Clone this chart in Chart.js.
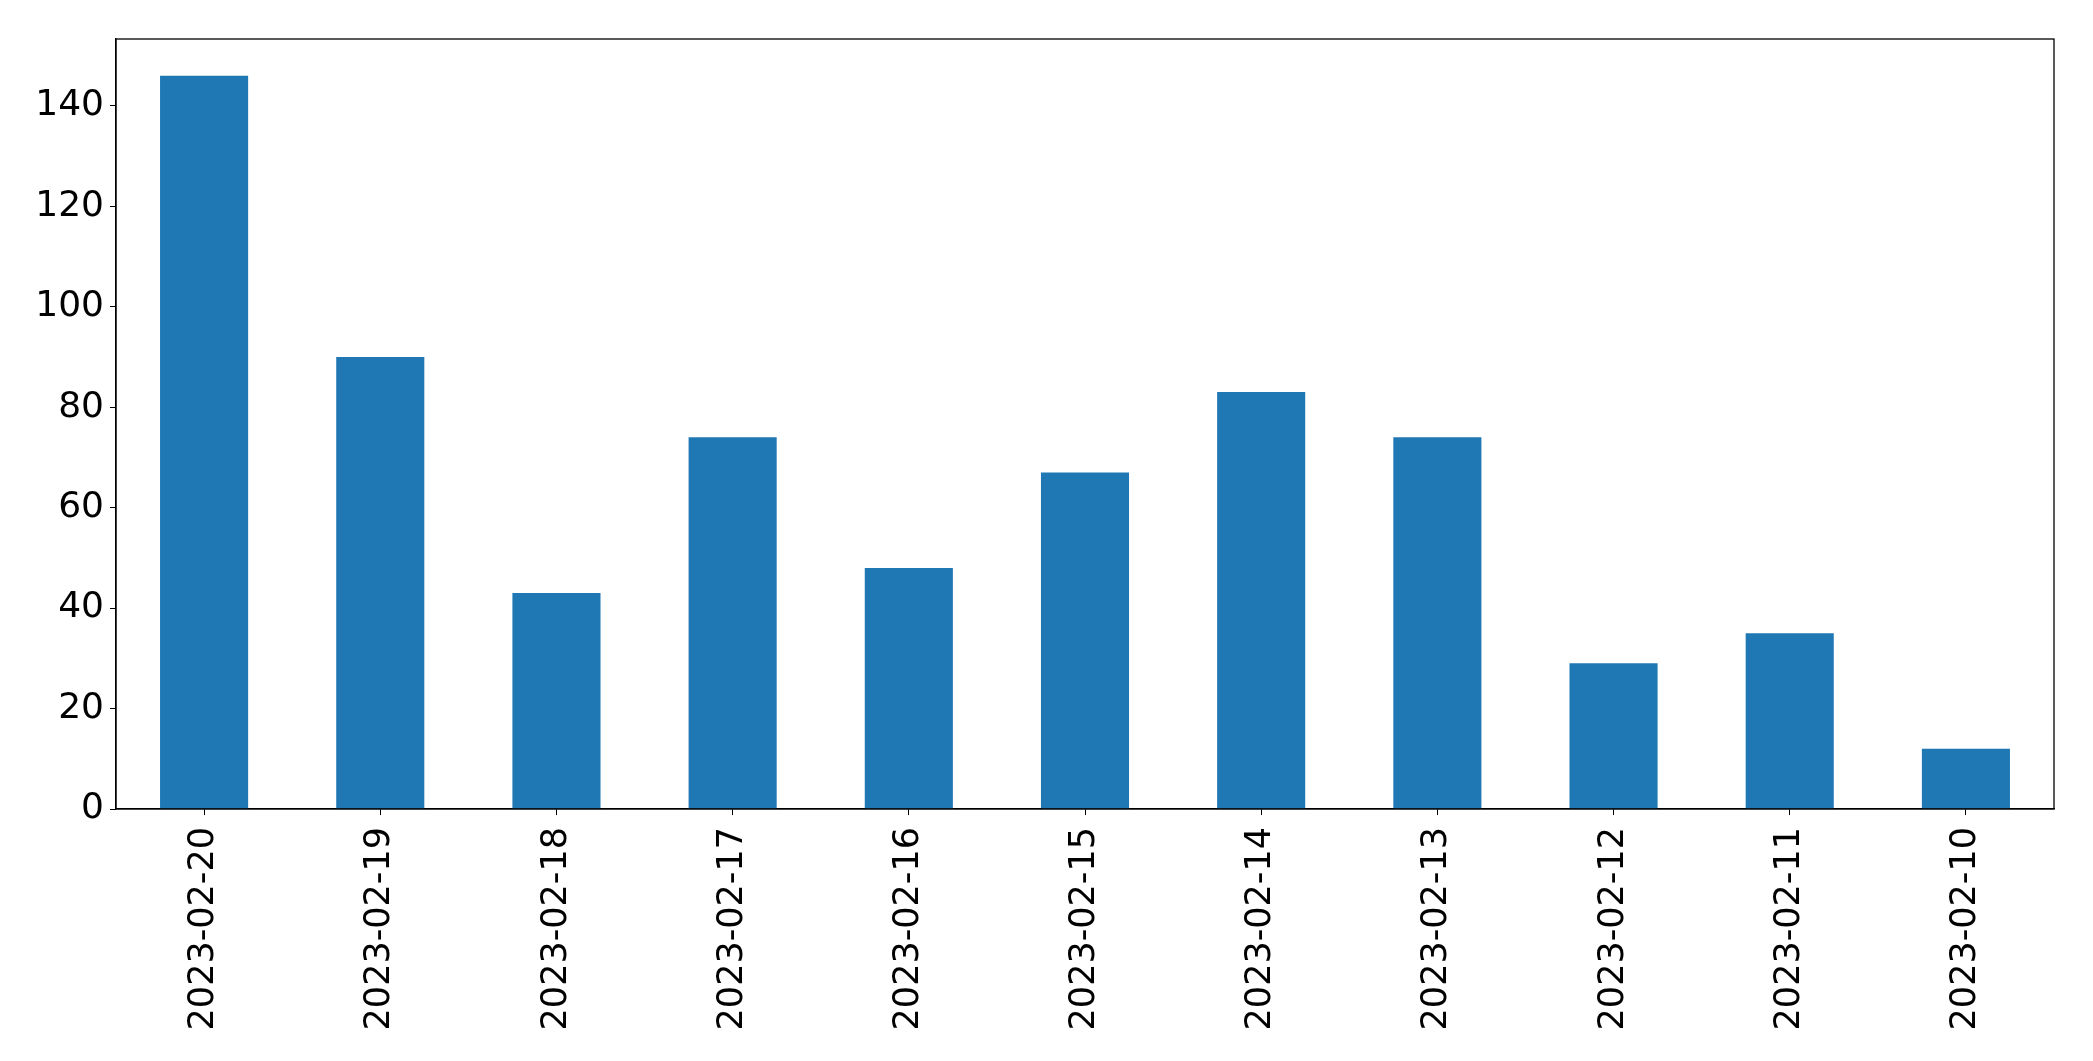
<!DOCTYPE html>
<html>
<head>
<meta charset="utf-8">
<script src="https://cdn.jsdelivr.net/npm/chart.js@4.4.1/dist/chart.umd.min.js"></script>
<style>
  html, body { margin: 0; padding: 0; background: #fff; }
  #wrap { width: 2093px; height: 1061px; }
</style>
</head>
<body>
<div id="wrap"><canvas id="chart" width="2093" height="1061"></canvas></div>
<script>
const dates = ["2023-02-20", "2023-02-19", "2023-02-18", "2023-02-17", "2023-02-16", "2023-02-15",
  "2023-02-14", "2023-02-13", "2023-02-12", "2023-02-11", "2023-02-10"];
const counts = [146, 90, 43, 74, 48, 67, 83, 74, 29, 35, 12];
const yTicks = [0, 20, 40, 60, 80, 100, 120, 140];

// box around the plot area (matplotlib style frame)
const frame = {
  id: "frame",
  afterDraw(chart) {
    const { ctx, chartArea: a } = chart;
    ctx.save();
    ctx.strokeStyle = "#000";
    ctx.lineWidth = 1.3;
    ctx.strokeRect(a.left, a.top, a.right - a.left, a.bottom - a.top);
    ctx.restore();
  },
};

new Chart(document.getElementById("chart"), {
  type: "bar",
  data: {
    labels: dates,
    datasets: [
      {
        data: counts,
        backgroundColor: "#1f77b4",
        categoryPercentage: 1,
        barPercentage: 0.5,
      },
    ],
  },
  options: {
    responsive: false,
    animation: false,
    layout: { padding: { top: 39, right: 39, left: 0, bottom: 0 } },
    plugins: { legend: { display: false }, tooltip: { enabled: false } },
    scales: {
      x: {
        grid: { drawOnChartArea: false, tickLength: 6, tickColor: "#000", offset: false },
        border: { color: "#000", width: 1.3 },
        ticks: {
          color: "#000",
          font: { family: "'DejaVu Sans'", size: 35 },
          maxRotation: 90,
          minRotation: 90,
          padding: 12,
          autoSkip: false,
        },
        afterFit(scale) { scale.height = 252; },
      },
      y: {
        min: 0,
        max: 153.3,
        afterBuildTicks(scale) { scale.ticks = yTicks.map((v) => ({ value: v })); },
        grid: { drawOnChartArea: false, tickLength: 6, tickColor: "#000" },
        border: { color: "#000", width: 1.3 },
        ticks: { color: "#000", font: { family: "'DejaVu Sans'", size: 36 }, padding: 6 },
        afterFit(scale) { scale.width = 116; },
      },
    },
  },
  plugins: [frame],
});
</script>
</body>
</html>
